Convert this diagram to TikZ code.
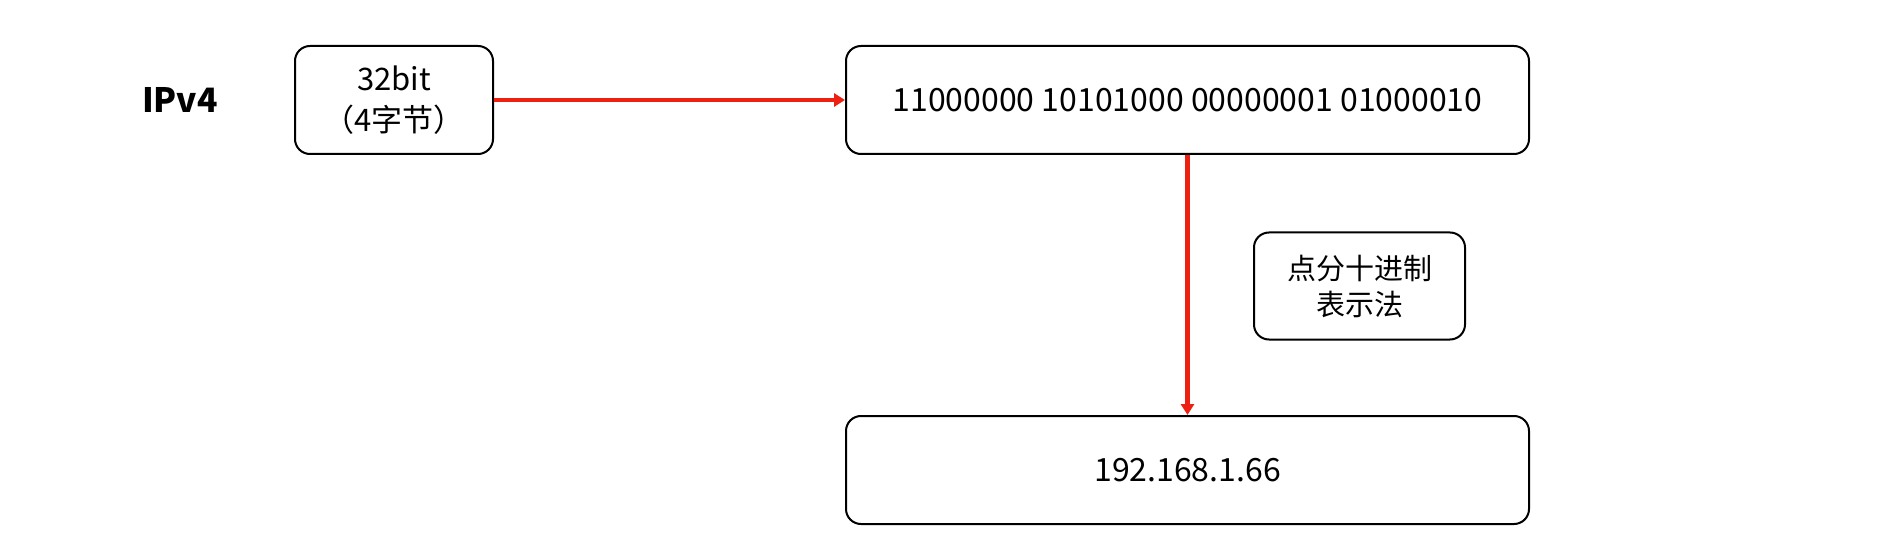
\documentclass[tikz,border=0pt]{standalone}
\usepackage{fontspec}
\setmainfont{Noto Sans CJK SC}
\usetikzlibrary{arrows.meta}
\definecolor{arrowred}{RGB}{238,32,18}
\tikzset{
  box/.style={draw=black, line width=1pt, rounded corners=7.5pt, align=center, inner sep=0pt, font=\fontsize{16}{20}\selectfont},
  redarrow/.style={draw=arrowred, line width=2.4pt, -{Triangle[length=5.5pt,width=6.5pt]}}
}
\begin{document}
\begin{tikzpicture}[x=0.5pt,y=-0.5pt]
\useasboundingbox[fill=white] (0,0) rectangle (1903,535);
\node[font=\fontsize{16.8}{20}\selectfont\bfseries] (ipv4) at (180,100) {IPv4};
\node[box, minimum width=99pt, minimum height=54pt, font=\fontsize{15.5}{20.5}\selectfont] (bits) at (394,100) {32bit\\（4字节）};
\node[box, minimum width=341.5pt, minimum height=54pt] (bin) at (1187.5,100) {11000000 10101000 00000001 01000010};
\node[box, minimum width=341.5pt, minimum height=54pt] (dec) at (1187.5,470) {192.168.1.66};
\node[box, minimum width=105.5pt, minimum height=53.5pt, font=\fontsize{14.5}{18}\selectfont] (lab) at (1359.5,286) {点分十进制\\表示法};
\draw[redarrow] (bits.east) -- (bin.west);
\draw[redarrow] (bin.south) -- (dec.north);
\end{tikzpicture}
\end{document}
